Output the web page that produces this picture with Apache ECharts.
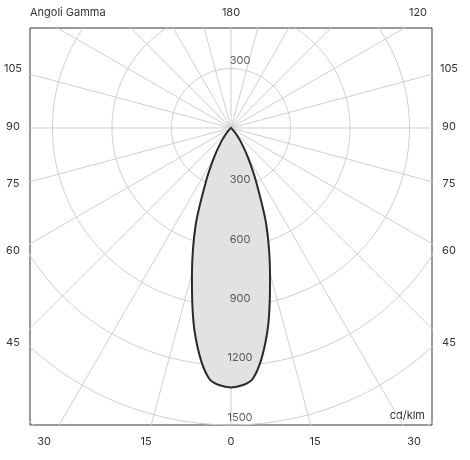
<!DOCTYPE html>
<html><head><meta charset="utf-8">
<script src="https://cdn.jsdelivr.net/npm/echarts@6/dist/echarts.min.js"></script>
<style>html,body{margin:0;padding:0;background:#fff}#c{width:470px;height:460px}</style>
</head><body><div id="c"></div>
<script>
// Gamma angles (deg) and intensity (cd/klm)
const gammaDeg = [0, 5, 10, 15, 20, 25, 30, 35, 40, 45, 50];
const intensity = [1310, 1270, 1050, 760, 520, 300, 170, 90, 40, 15, 0];
const ringValues = [300, 600, 900, 1200, 1500, 1800, 2100];
const rayStep = 15;
const radialLabels = ['300', '600', '900', '1200', '1500'];
const bottomLabels = ['30', '15', '0', '15', '30'];
const leftLabels = ['105', '90', '75', '60', '45'];
const topLabels = ['Angoli Gamma', '180', '120'];
const unitLabel = 'cd/klm';

const rad = d => d * Math.PI / 180;
// lobe polygon (mirror both sides)
const lobe = [];
for (let i = gammaDeg.length - 1; i >= 0; i--) lobe.push([-intensity[i] * Math.sin(rad(gammaDeg[i])), -intensity[i] * Math.cos(rad(gammaDeg[i]))]);
for (let i = 1; i < gammaDeg.length; i++) lobe.push([intensity[i] * Math.sin(rad(gammaDeg[i])), -intensity[i] * Math.cos(rad(gammaDeg[i]))]);

const series = [];
const gl = {color: '#cfcfcf', width: 1};
ringValues.forEach(r => {
  const pts = [];
  for (let a = 0; a <= 360; a += 3) pts.push([r * Math.sin(rad(a)), r * Math.cos(rad(a))]);
  series.push({type: 'line', data: pts, showSymbol: false, lineStyle: gl, silent: true, clip: true, z: 1});
});
for (let a = 0; a < 360; a += rayStep) {
  series.push({type: 'line', data: [[0, 0], [3000 * Math.sin(rad(a)), 3000 * Math.cos(rad(a))]], showSymbol: false, lineStyle: gl, silent: true, clip: true, z: 1});
}
series.push({
  type: 'custom', z: 5, clip: true,
  data: [0],
  renderItem: (p, api) => ({
    type: 'polygon',
    shape: {points: lobe.map(q => api.coord(q)), smooth: 0.3},
    style: {fill: '#e2e2e4', stroke: '#2a2a2a', lineWidth: 2}
  })
});
const radialPts = [[0, 300, '300']].concat(radialLabels.map(t => [0, -Number(t), t]));
series.push({
  type: 'scatter', symbolSize: 0, z: 6, data: radialPts,
  label: {show: true, formatter: p => p.data[2], position: 'top', offset: [9, 3], color: '#333', fontSize: 11, fontFamily: 'Inter'}
});

const txt = (x, y, t, align) => ({type: 'text', x, y, style: {text: t, fill: '#333', fontSize: 11, fontFamily: 'Inter', align: align || 'center', verticalAlign: 'middle'}});
const g = [];
g.push(txt(30, 13, topLabels[0], 'left'), txt(231, 13, topLabels[1]), txt(418, 13, topLabels[2]));
const bx = [44, 146, 231, 315, 414];
bottomLabels.forEach((t, i) => g.push(txt(bx[i], 442, t)));
const ly = [69, 127, 184, 251, 343];
leftLabels.forEach((t, i) => { g.push(txt(13, ly[i], t)); g.push(txt(449, ly[i], t)); });
g.push(txt(425, 416, unitLabel, 'right'));

const chart = echarts.init(document.getElementById('c'));
chart.setOption({
  animation: false,
  grid: {left: 30, top: 28, width: 402, height: 397, show: true, borderColor: '#333', borderWidth: 1, backgroundColor: 'transparent'},
  xAxis: {type: 'value', min: -1013, max: 1013, show: false},
  yAxis: {type: 'value', min: -1500, max: 505, show: false},
  series: series,
  graphic: g
});
</script></body></html>
